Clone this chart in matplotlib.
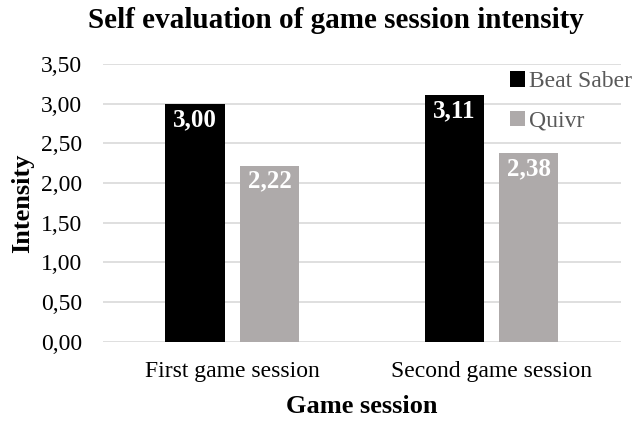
import matplotlib
matplotlib.use('Agg')
import matplotlib.pyplot as plt
import numpy as np
from matplotlib.ticker import FuncFormatter

plt.rcParams['font.family'] = ['Liberation Serif', 'DejaVu Serif']

sessions = ['First game session', 'Second game session']
games = ['Beat Saber', 'Quivr']
beat_saber = [3.00, 3.11]
quivr = [2.22, 2.38]
colors = ['#000000', '#AEAAAA']

fig = plt.figure(figsize=(6.35, 4.21), dpi=100)
ax = fig.add_axes([0.162, 0.188, 0.816, 0.660])

x = np.arange(len(sessions))
width = 0.231
offs = [-0.143, 0.143]
for vals, off, col, name in zip([beat_saber, quivr], offs, colors, games):
    bars = ax.bar(x + off, vals, width, color=col, label=name, zorder=3)
    for b, v in zip(bars, vals):
        ax.annotate(f'{v:.2f}'.replace('.', ','), (b.get_x() + b.get_width() / 2, v),
                    xytext=(0, -3), textcoords='offset points',
                    ha='center', va='top', color='white', fontsize=18, fontweight='bold', zorder=4)

ax.set_xlim(-0.5, 1.5)
ax.set_ylim(0, 3.5)
ax.set_yticks(np.arange(0, 3.51, 0.5))
ax.yaxis.set_major_formatter(FuncFormatter(lambda v, p: f'{v:.2f}'.replace('.', ',')))
ax.set_xticks(x)
ax.set_xticklabels(sessions)
ax.grid(axis='y', color='#D9D9D9', linewidth=1.2, zorder=0)
for s in ax.spines.values():
    s.set_visible(False)
ax.tick_params(length=0, labelsize=17, colors='black')
ax.tick_params(axis='x', pad=14)
ax.tick_params(axis='y', pad=15)

fig.text(0.529, 1 - 28 / 421, 'Self evaluation of game session intensity',
         fontsize=21, fontweight='bold', ha='center', va='baseline')
ax.set_ylabel('Intensity', fontsize=19, fontweight='bold', labelpad=5)
ax.set_xlabel('Game session', fontsize=19, fontweight='bold', labelpad=9)

leg = ax.legend(loc='upper left', bbox_to_anchor=(510 / 635, 1 - 71 / 421),
                bbox_transform=fig.transFigure, frameon=False, fontsize=17,
                borderpad=0, borderaxespad=0,
                handlelength=0.64, handleheight=0.64, handletextpad=0.15, labelspacing=0.78,
                labelcolor='#595959')

fig.savefig('out.png', dpi=100)
